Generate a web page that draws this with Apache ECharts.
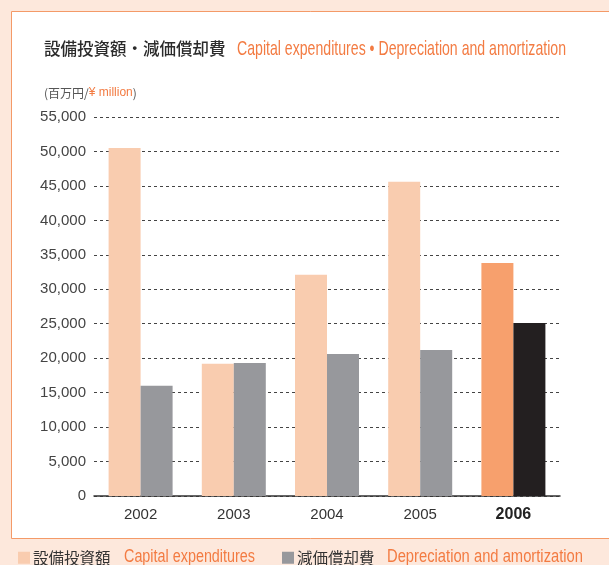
<!DOCTYPE html>
<html>
<head>
<meta charset="utf-8">
<script src="https://cdn.jsdelivr.net/npm/echarts@6/dist/echarts.min.js"></script>
<style>
  html, body { margin: 0; padding: 0; background: #fde8dc; }
  #chart { width: 609px; height: 565px; }
</style>
</head>
<body>
<div id="chart"></div>
<script>
// Fiscal years and values (¥ million)
const years = ['2002', '2003', '2004', '2005', '2006'];
const capex = [50500, 19200, 32100, 45600, 33800];
const depreciation = [16000, 19300, 20600, 21200, 25100];
const yTicks = [0, 5000, 10000, 15000, 20000, 25000, 30000, 35000, 40000, 45000, 50000, 55000];

const titleJp = '設備投資額・減価償却費';
const titleEn = 'Capital expenditures • Depreciation and amortization';
const seriesJp = ['設備投資額', '減価償却費'];
const seriesEn = ['Capital expenditures', 'Depreciation and amortization'];

const SANS = '"Liberation Sans", Arial, sans-serif';
const CJK = '"Noto Sans CJK JP", sans-serif';
const ORANGE = '#f37b42';
const LAST = years.length - 1;

const capexColor = '#f9ccaf', capexHi = '#f7a06d';
const depColor = '#97989c', depHi = '#231f20';

// condensed look for the English captions: squeeze text to a given width
const ctx = document.createElement('canvas').getContext('2d');
function squeezed(text, size, x, y, width) {
  ctx.font = size + 'px ' + SANS;
  const w = ctx.measureText(text).width;
  return {
    type: 'text', x: x, y: y, scaleX: width / w,
    style: { text: text, fontFamily: SANS, fontSize: size, fill: ORANGE, verticalAlign: 'middle' }
  };
}

const chart = echarts.init(document.getElementById('chart'));

chart.setOption({
  backgroundColor: '#fde8dc',
  animation: false,
  graphic: [
    // white panel with orange frame
    { type: 'rect', shape: { x: 11.5, y: 11.5, width: 620, height: 527 },
      style: { fill: '#ffffff', stroke: '#f49a68', lineWidth: 1 }, z: -10 },
    { type: 'text', x: 44, y: 49,
      style: { text: titleJp, fontFamily: CJK, fontSize: 16.5, fontWeight: 500, fill: '#2b2b2b', verticalAlign: 'middle' } },
    squeezed(titleEn, 21, 237, 49, 329),
    { type: 'text', x: 44, y: 93,
      style: {
        rich: {
          jp: { fontFamily: CJK, fontSize: 12, fill: '#555' },
          en: { fontFamily: SANS, fontSize: 12, fill: ORANGE }
        },
        text: '{jp|(百万円/}{en|¥ million}{jp|)}',
        verticalAlign: 'middle'
      } },
    squeezed(seriesEn[0], 17.5, 124, 557, 131),
    squeezed(seriesEn[1], 17.5, 387, 557, 196)
  ],
  legend: [
    { left: 13, top: 545, icon: 'rect', itemWidth: 12, itemHeight: 12, data: [seriesJp[0]],
      textStyle: { fontFamily: CJK, fontSize: 15.5, color: '#333', padding: [0, 0, 0, -2] } },
    { left: 277, top: 545, icon: 'rect', itemWidth: 12, itemHeight: 12, data: [seriesJp[1]],
      textStyle: { fontFamily: CJK, fontSize: 15.5, color: '#333', padding: [0, 0, 0, -2] } }
  ],
  grid: { left: 94, right: 49, top: 117, bottom: 69, containLabel: false },
  xAxis: {
    type: 'category',
    data: years,
    axisLine: { lineStyle: { color: '#333', width: 1.5 } },
    axisTick: { show: false },
    axisLabel: {
      margin: 11,
      fontFamily: SANS, fontSize: 15, color: '#333',
      formatter: (v, i) => i === LAST ? '{b|' + v + '}' : v,
      rich: { b: { fontFamily: SANS, fontSize: 16, fontWeight: 'bold', color: '#222' } }
    }
  },
  yAxis: {
    type: 'value',
    min: yTicks[0], max: yTicks[yTicks.length - 1], interval: yTicks[1] - yTicks[0],
    axisLine: { show: false },
    axisTick: { show: false },
    axisLabel: { margin: 8, fontFamily: SANS, fontSize: 15, color: '#444',
      formatter: v => v.toLocaleString('en-US') },
    splitLine: { lineStyle: { color: '#444', type: [3, 3], width: 1 } }
  },
  series: [
    {
      name: seriesJp[0], type: 'bar', barWidth: 32, barGap: '0%',
      itemStyle: { color: capexColor },
      data: capex.map((v, i) => i === LAST ? { value: v, itemStyle: { color: capexHi } } : v)
    },
    {
      name: seriesJp[1], type: 'bar', barWidth: 32, barGap: '0%',
      itemStyle: { color: depColor },
      data: depreciation.map((v, i) => i === LAST ? { value: v, itemStyle: { color: depHi } } : v)
    }
  ]
});
</script>
</body>
</html>
